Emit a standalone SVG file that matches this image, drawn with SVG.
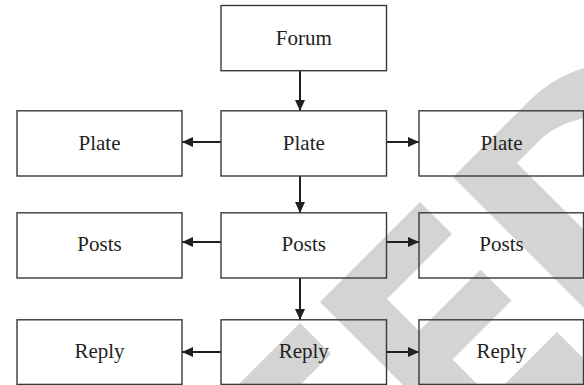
<svg xmlns="http://www.w3.org/2000/svg" width="584" height="385" viewBox="0 0 584 385">
  <defs>
    <style>
      .box { fill: none; stroke: #3a3a3a; stroke-width: 1.4; }
      .lbl { font-family: "Liberation Serif", "Times New Roman", serif; font-size: 21px; fill: #231f20; text-anchor: middle; }
      .edge { stroke: #231f20; stroke-width: 2; fill: none; }
      .wm { fill: #d4d4d4; }
    </style>
    <marker id="arr" viewBox="0 0 11 10" refX="11" refY="5" markerWidth="11" markerHeight="10" markerUnits="userSpaceOnUse" orient="auto">
      <path d="M0,0 L11,5 L0,10 Z" fill="#231f20"/>
    </marker>
  </defs>
  <rect width="584" height="385" fill="#ffffff"/>
  <g id="watermark">
    <path class="wm" d="M453,177 L523,107 Q550,78 584,68 L584,118 Q555,125 540,140 L517,163 L584,230 L584,308 Z"/>
    <path class="wm" d="M420,202 L320,302 L403,385 L478,385 L452.5,359.5 L511.5,300.5 L480.5,269.5 L419,331 L387,299 L452,234 Z"/>
    <path class="wm" d="M300,323 L331,354 L300,385 L238,385 Z"/>
    <path class="wm" d="M557,332 L584,359 L584,385 L504,385 Z"/>
  </g>
  <g id="connectors">
    <line class="edge" x1="300" y1="71" x2="300" y2="111" marker-end="url(#arr)"/>
    <line class="edge" x1="300" y1="176" x2="300" y2="213" marker-end="url(#arr)"/>
    <line class="edge" x1="300" y1="278" x2="300" y2="320" marker-end="url(#arr)"/>
    <line class="edge" x1="221" y1="142" x2="182" y2="142" marker-end="url(#arr)"/>
    <line class="edge" x1="386.5" y1="142" x2="419" y2="142" marker-end="url(#arr)"/>
    <line class="edge" x1="221" y1="242" x2="182" y2="242" marker-end="url(#arr)"/>
    <line class="edge" x1="386.5" y1="242" x2="419" y2="242" marker-end="url(#arr)"/>
    <line class="edge" x1="221" y1="352" x2="182" y2="352" marker-end="url(#arr)"/>
    <line class="edge" x1="386.5" y1="352" x2="419" y2="352" marker-end="url(#arr)"/>
  </g>
  <g id="forum">
    <rect class="box" x="221" y="5.5" width="165.5" height="65.2"/>
    <text class="lbl" x="303.8" y="44.5">Forum</text>
  </g>
  <g id="plate-left">
    <rect class="box" x="17" y="110.8" width="165" height="65.2"/>
    <text class="lbl" x="99.5" y="149.5">Plate</text>
  </g>
  <g id="plate-center">
    <rect class="box" x="221" y="110.8" width="165.5" height="65.2"/>
    <text class="lbl" x="303.8" y="149.5">Plate</text>
  </g>
  <g id="plate-right">
    <rect class="box" x="419" y="110.8" width="164.5" height="65.2"/>
    <text class="lbl" x="501.5" y="149.5">Plate</text>
  </g>
  <g id="posts-left">
    <rect class="box" x="17" y="212.8" width="165" height="65.2"/>
    <text class="lbl" x="99.5" y="251">Posts</text>
  </g>
  <g id="posts-center">
    <rect class="box" x="221" y="212.8" width="165.5" height="65.2"/>
    <text class="lbl" x="303.8" y="251">Posts</text>
  </g>
  <g id="posts-right">
    <rect class="box" x="419" y="212.8" width="164.5" height="65.2"/>
    <text class="lbl" x="501.5" y="251">Posts</text>
  </g>
  <g id="reply-left">
    <rect class="box" x="17" y="319.8" width="165" height="64.6"/>
    <text class="lbl" x="99.5" y="357.5">Reply</text>
  </g>
  <g id="reply-center">
    <rect class="box" x="221" y="319.8" width="165.5" height="64.6"/>
    <text class="lbl" x="303.8" y="357.5">Reply</text>
  </g>
  <g id="reply-right">
    <rect class="box" x="419" y="319.8" width="164.5" height="64.6"/>
    <text class="lbl" x="501.5" y="357.5">Reply</text>
  </g>
</svg>
